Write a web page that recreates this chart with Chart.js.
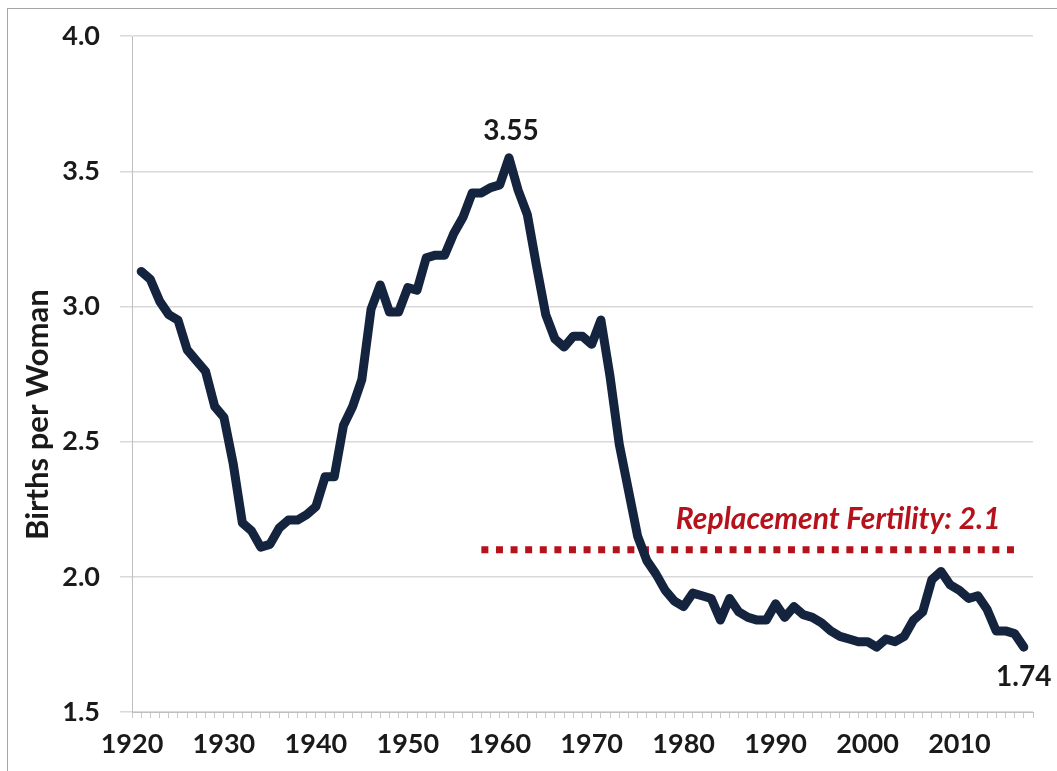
<!DOCTYPE html>
<html>
<head>
<meta charset="utf-8">
<script src="https://cdn.jsdelivr.net/npm/chart.js@4.4.1/dist/chart.umd.min.js"></script>
<style>
  html, body { margin: 0; padding: 0; background: #fff; }
  #frame { position: absolute; left: 7px; top: 8px; width: 1070px; height: 790px; border: 1px solid #a6a6a6; }
  #wrap { position: absolute; left: 0; top: 0; width: 1057px; height: 771px; }
</style>
</head>
<body>
<div id="frame"></div>
<div id="wrap"><canvas id="myChart" width="1057" height="771"></canvas></div>
<script>
const years = ['1920','1921','1922','1923','1924','1925','1926','1927','1928','1929',
  '1930','1931','1932','1933','1934','1935','1936','1937','1938','1939',
  '1940','1941','1942','1943','1944','1945','1946','1947','1948','1949',
  '1950','1951','1952','1953','1954','1955','1956','1957','1958','1959',
  '1960','1961','1962','1963','1964','1965','1966','1967','1968','1969',
  '1970','1971','1972','1973','1974','1975','1976','1977','1978','1979',
  '1980','1981','1982','1983','1984','1985','1986','1987','1988','1989',
  '1990','1991','1992','1993','1994','1995','1996','1997','1998','1999',
  '2000','2001','2002','2003','2004','2005','2006','2007','2008','2009',
  '2010','2011','2012','2013','2014','2015','2016','2017','2018'];

// births per woman, 1921-2017 (first and last category empty)
const fertility = [null,
  3.13, 3.10, 3.02, 2.97, 2.95, 2.84, 2.80, 2.76, 2.63,
  2.59, 2.42, 2.20, 2.17, 2.11, 2.12, 2.18, 2.21, 2.21, 2.23,
  2.26, 2.37, 2.37, 2.56, 2.63, 2.73, 2.99, 3.08, 2.98, 2.98,
  3.07, 3.06, 3.18, 3.19, 3.19, 3.27, 3.33, 3.42, 3.42, 3.44,
  3.45, 3.55, 3.43, 3.34, 3.15, 2.97, 2.88, 2.85, 2.89, 2.89,
  2.86, 2.95, 2.74, 2.49, 2.32, 2.15, 2.06, 2.01, 1.95, 1.91,
  1.89, 1.94, 1.93, 1.92, 1.84, 1.92, 1.87, 1.85, 1.84, 1.84,
  1.90, 1.85, 1.89, 1.86, 1.85, 1.83, 1.80, 1.78, 1.77, 1.76,
  1.76, 1.74, 1.77, 1.76, 1.78, 1.84, 1.87, 1.99, 2.02, 1.97,
  1.95, 1.92, 1.93, 1.88, 1.80, 1.80, 1.79, 1.74, null];

const tickLabels = ['1920','1930','1940','1950','1960','1970','1980','1990','2000','2010'];
const yTicks = [1.5, 2.0, 2.5, 3.0, 3.5, 4.0];
const yTitle = 'Births per Woman';

const replacementLevel = 2.1;
const replacementFrom = '1958';
const replacementTo = '2016';
const replacementText = 'Replacement Fertility: 2.1';

const navy = '#14243f';
const red = '#b5121b';
const txt = '#1a1a1a';
const fontFam = 'Lato, "Open Sans", sans-serif';

// text labels: axis title, peak, last value and the replacement line caption
const notes = {
  id: 'notes',
  afterDatasetsDraw(chart) {
    const c = chart.ctx;
    const pts = chart.getDatasetMeta(0).data;
    const vals = chart.data.datasets[0].data;
    let peak = 0, last = 0;
    vals.forEach((v, i) => {
      if (v == null) return;
      if (v > vals[peak] || vals[peak] == null) peak = i;
      last = i;
    });
    c.save();
    c.fillStyle = txt;
    c.textAlign = 'center';
    c.textBaseline = 'middle';

    // y title sits a bit below the middle of the axis in the original
    c.save();
    c.font = 'bold 31px ' + fontFam;
    c.translate(38, chart.scales.y.getPixelForValue(2.6));
    c.rotate(-Math.PI / 2);
    c.fillText(yTitle, 0, 0);
    c.restore();

    c.font = 'bold 28px ' + fontFam;
    c.fillText(vals[peak].toFixed(2), pts[peak].x + 2, pts[peak].y - 27);
    c.fillText(vals[last].toFixed(2), pts[last].x, pts[last].y + 30);

    const rp = chart.getDatasetMeta(1).data;
    c.fillStyle = red;
    c.font = 'italic bold 30px ' + fontFam;
    c.textAlign = 'right';
    c.fillText(replacementText, rp[rp.length - 1].x - 14, rp[0].y - 30);
    c.restore();
  }
};

const ctx = document.getElementById('myChart').getContext('2d');
const myChart = new Chart(ctx, {
  type: 'line',
  data: {
    labels: years,
    datasets: [{
      label: 'Births per Woman',
      data: fertility,
      borderColor: navy,
      borderWidth: 9,
      pointRadius: 0,
      borderJoinStyle: 'round',
      borderCapStyle: 'round',
      tension: 0
    },
    {
      label: 'Replacement Fertility',
      data: [{ x: replacementFrom, y: replacementLevel }, { x: replacementTo, y: replacementLevel }],
      borderColor: red,
      borderWidth: 7,
      borderDash: [7, 7.6],
      pointRadius: 0
    }]
  },
  options: {
    responsive: false,
    animation: false,
    layout: { padding: { left: 0, top: 36, right: 24, bottom: 0 } },
    plugins: { legend: { display: false }, tooltip: { enabled: false } },
    scales: {
      x: {
        type: 'category',
        offset: false,
        grid: { drawOnChartArea: false, drawTicks: true, tickLength: 6, color: '#c8c8c8' },
        border: { color: '#bfbfbf', width: 1 },
        ticks: {
          autoSkip: false,
          maxRotation: 0,
          padding: 10,
          color: txt,
          font: { family: fontFam, size: 27, weight: 'bold' },
          callback(v, i) {
            const lab = this.getLabelForValue(v);
            return tickLabels.includes(lab) ? lab : '';
          }
        },
        afterFit(scale) { scale.height = 59; }
      },
      y: {
        min: 1.5,
        max: 4.0,
        afterBuildTicks(scale) { scale.ticks = yTicks.map(v => ({ value: v })); },
        grid: { color: '#d9d9d9', lineWidth: 1.5, tickLength: 12 },
        border: { color: '#bfbfbf', width: 1 },
        ticks: {
          padding: 20,
          color: txt,
          font: { family: fontFam, size: 27, weight: 'bold' },
          callback: v => v.toFixed(1)
        },
        afterFit(scale) { scale.width = 132; }
      }
    }
  },
  plugins: [notes]
});
</script>
</body>
</html>
